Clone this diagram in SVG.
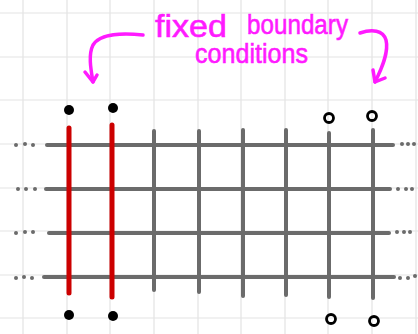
<svg xmlns="http://www.w3.org/2000/svg" width="418" height="334" viewBox="0 0 418 334">
<defs>
<style>
.bg{stroke:#e3e3e3;stroke-width:1.2}
.h{stroke:#6b6b6b;stroke-width:4;stroke-linecap:round}
.v{stroke:#6b6b6b;stroke-width:4;stroke-linecap:round}
.r{stroke:#cc0000;stroke-width:5;stroke-linecap:round}
.dot{fill:#6b6b6b}
.fd{fill:#000}
.od{fill:none;stroke:#000;stroke-width:2.8}
.lbl{fill:#ff1aff;stroke:#ff1aff;stroke-width:0.6;font-family:"Liberation Sans","DejaVu Sans",sans-serif}
.arr{fill:none;stroke:#ff1aff;stroke-width:3.5;stroke-linecap:round;stroke-linejoin:round}
</style>
</defs>
<rect width="418" height="334" fill="#fff"/>
<g id="background-grid">
<line class="bg" x1="23" y1="0" x2="23" y2="334"/>
<line class="bg" x1="67" y1="0" x2="67" y2="334"/>
<line class="bg" x1="110" y1="0" x2="110" y2="334"/>
<line class="bg" x1="154" y1="0" x2="154" y2="334"/>
<line class="bg" x1="198" y1="0" x2="198" y2="334"/>
<line class="bg" x1="241" y1="0" x2="241" y2="334"/>
<line class="bg" x1="285" y1="0" x2="285" y2="334"/>
<line class="bg" x1="328" y1="0" x2="328" y2="334"/>
<line class="bg" x1="372" y1="0" x2="372" y2="334"/>
<line class="bg" x1="416" y1="0" x2="416" y2="334"/>
<line class="bg" x1="0" y1="13" x2="418" y2="13"/>
<line class="bg" x1="0" y1="57" x2="418" y2="57"/>
<line class="bg" x1="0" y1="100" x2="418" y2="100"/>
<line class="bg" x1="0" y1="144" x2="418" y2="144"/>
<line class="bg" x1="0" y1="188" x2="418" y2="188"/>
<line class="bg" x1="0" y1="231" x2="418" y2="231"/>
<line class="bg" x1="0" y1="275" x2="418" y2="275"/>
<line class="bg" x1="0" y1="318" x2="418" y2="318"/>
</g>
<g id="lattice-horizontal">
<line class="h" x1="47" y1="145" x2="393" y2="145"/>
<line class="h" x1="46" y1="189" x2="390" y2="189"/>
<line class="h" x1="49" y1="233" x2="389" y2="233"/>
<line class="h" x1="44" y1="277" x2="394" y2="277"/>
</g>
<g id="ellipsis-dots">
<circle class="dot" cx="16" cy="145" r="2"/><circle class="dot" cx="25" cy="144" r="2"/><circle class="dot" cx="33" cy="145" r="2"/>
<circle class="dot" cx="18" cy="189" r="2"/><circle class="dot" cx="26" cy="189" r="2"/><circle class="dot" cx="35" cy="189" r="2"/>
<circle class="dot" cx="16" cy="233" r="2"/><circle class="dot" cx="25" cy="232" r="2"/><circle class="dot" cx="33" cy="232" r="2"/>
<circle class="dot" cx="16" cy="278" r="2"/><circle class="dot" cx="24" cy="277" r="2"/><circle class="dot" cx="32" cy="278" r="2"/>
<circle class="dot" cx="402" cy="144" r="2"/><circle class="dot" cx="408" cy="144" r="2"/><circle class="dot" cx="414" cy="144" r="2"/>
<circle class="dot" cx="398" cy="189" r="2"/><circle class="dot" cx="406" cy="189" r="2"/><circle class="dot" cx="412" cy="189" r="2"/>
<circle class="dot" cx="397" cy="232" r="2"/><circle class="dot" cx="404" cy="232" r="2"/><circle class="dot" cx="410" cy="232" r="2"/>
<circle class="dot" cx="400" cy="278" r="2"/><circle class="dot" cx="408" cy="278" r="2"/><circle class="dot" cx="415" cy="276" r="2"/>
</g>
<g id="lattice-vertical">
<line class="v" x1="154" y1="131" x2="154" y2="290"/>
<line class="v" x1="199" y1="131" x2="199" y2="292"/>
<line class="v" x1="243" y1="130" x2="243" y2="296"/>
<line class="v" x1="286" y1="130" x2="286" y2="295"/>
<line class="v" x1="329" y1="133" x2="329" y2="297"/>
<line class="v" x1="373" y1="130" x2="373" y2="298"/>
</g>
<g id="fixed-columns">
<line class="r" x1="69" y1="128" x2="69" y2="293"/>
<line class="r" x1="112" y1="125" x2="112" y2="297"/>
</g>
<g id="boundary-left">
<circle class="fd" cx="69" cy="110" r="5"/>
<circle class="fd" cx="113" cy="108" r="5"/>
<circle class="fd" cx="69" cy="315" r="5"/>
<circle class="fd" cx="113" cy="316" r="5"/>
</g>
<g id="boundary-right">
<circle class="od" cx="329" cy="118" r="4.5"/>
<circle class="od" cx="372" cy="116" r="4.5"/>
<circle class="od" cx="331" cy="319" r="4.5"/>
<circle class="od" cx="374" cy="321" r="4.5"/>
</g>
<g id="label">
<text class="lbl" x="155" y="37" font-size="32" textLength="72" lengthAdjust="spacingAndGlyphs">fixed</text>
<text class="lbl" x="247" y="34" font-size="27" textLength="101" lengthAdjust="spacingAndGlyphs">boundary</text>
<text class="lbl" x="195" y="63" font-size="27" textLength="113" lengthAdjust="spacingAndGlyphs">conditions</text>
</g>
<g id="connectors">
<path class="arr" d="M143,35 C125,33 100,33 93,45 C88,55 91,70 93,82"/>
<path class="arr" d="M85,72 L93,82 L97,75"/>
<path class="arr" d="M360,33 C372,29 383,30 386,40 C389,52 382,68 375,82"/>
<path class="arr" d="M373,70 L375,82 L385,78"/>
</g>
</svg>
